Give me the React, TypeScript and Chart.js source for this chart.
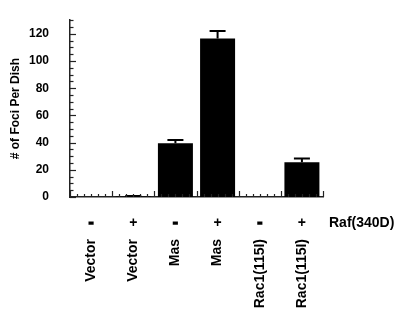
import React, { useEffect, useRef } from "react";
import { Chart, registerables } from "chart.js";

Chart.register(...registerables);

const categories = ["Vector", "Vector", "Mas", "Mas", "Rac1(115I)", "Rac1(115I)"];
const rafSigns = ["-", "+", "-", "+", "-", "+"];
const fociValues = [0, 0.3, 39.5, 116.5, 0, 25.5];
const fociErrors = [0, 0.4, 2.5, 5.5, 0, 2.8];
const yMin = 0;
const yMax = 130;
const yMajorStep = 20;
const yMinorStep = 5;
const yTitle = "# of Foci Per Dish";
const groupLabel = "Raf(340D)";

const FONT = '"Liberation Sans", Arial, Helvetica, sans-serif';

const decorPlugin = {
  id: "decor",
  afterDatasetsDraw(chart: any) {
    const ctx = chart.ctx;
    const xs = chart.scales.x;
    const ys = chart.scales.y;
    const meta = chart.getDatasetMeta(0);
    ctx.save();
    ctx.strokeStyle = "#000";
    ctx.fillStyle = "#000";
    // error bars
    ctx.lineWidth = 2;
    fociValues.forEach((v, i) => {
      const e = fociErrors[i];
      if (!e) return;
      const x = meta.data[i].x;
      const yb = ys.getPixelForValue(v);
      const yt = ys.getPixelForValue(v + e);
      ctx.beginPath();
      ctx.moveTo(x, yb);
      ctx.lineTo(x, yt);
      ctx.moveTo(x - 8, yt);
      ctx.lineTo(x + 8, yt);
      ctx.stroke();
    });
    // y axis ticks (inward)
    ctx.lineWidth = 1.2;
    ctx.strokeStyle = "#222";
    const ax = xs.left;
    for (let v = yMin; v <= yMax; v += yMinorStep) {
      const y = Math.round(ys.getPixelForValue(v)) + 0.5;
      const len = v % yMajorStep === 0 ? 6 : 3.5;
      ctx.beginPath();
      ctx.moveTo(ax, y);
      ctx.lineTo(ax + len, y);
      ctx.stroke();
    }
    // x axis ticks (inward)
    const n = categories.length;
    const cw = (xs.right - xs.left) / n;
    const by = ys.bottom;
    for (let i = 0; i <= n * 6; i++) {
      const x = Math.round(xs.left + (i * cw) / 6) + 0.5;
      const len = i % 6 === 0 ? 6 : 3;
      ctx.beginPath();
      ctx.moveTo(x, by);
      ctx.lineTo(x, by - len);
      ctx.stroke();
    }
    // sign row and group label
    ctx.font = `bold 14px ${FONT}`;
    ctx.textAlign = "center";
    ctx.textBaseline = "middle";
    ctx.strokeStyle = "#000";
    const rowY = 223;
    rafSigns.forEach((s, i) => {
      const x = xs.getPixelForValue(i);
      ctx.fillText(s, x, rowY);
      if (s === "-") {
        ctx.lineWidth = 1.6;
        ctx.strokeText(s, x, rowY);
      }
    });
    ctx.textAlign = "left";
    ctx.fillText(groupLabel, xs.right + 6, rowY);
    ctx.restore();
  },
};

export default function App() {
  const ref = useRef<HTMLCanvasElement | null>(null);
  useEffect(() => {
    if (!ref.current) return;
    const chart = new Chart(ref.current, {
      type: "bar",
      data: {
        labels: categories,
        datasets: [
          {
            data: fociValues,
            backgroundColor: "#000",
            borderWidth: 0,
            categoryPercentage: 1,
            barPercentage: 0.83,
          },
        ],
      },
      options: {
        animation: false,
        responsive: true,
        maintainAspectRatio: false,
        layout: { padding: { top: 9.5, right: 77, left: 0, bottom: 0 } },
        plugins: { legend: { display: false }, tooltip: { enabled: false } },
        scales: {
          x: {
            grid: { display: false },
            border: { display: true, color: "#222", width: 1.5 },
            ticks: {
              autoSkip: false,
              minRotation: 90,
              maxRotation: 90,
              padding: 34,
              color: "#000",
              font: { family: FONT, size: 14, weight: "bold" },
            },
            afterFit(scale: any) {
              scale.height = 119;
            },
          },
          y: {
            min: yMin,
            max: yMax,
            grid: { display: false },
            border: { display: true, color: "#222", width: 1.5 },
            ticks: {
              stepSize: yMinorStep,
              autoSkip: false,
              padding: 13,
              color: "#000",
              font: { family: FONT, size: 12, weight: "bold" },
              callback: (v: any) => (Number(v) % yMajorStep === 0 && Number(v) <= 120 ? String(v) : ""),
            },
            title: {
              display: true,
              text: yTitle,
              color: "#000",
              font: { family: FONT, size: 12, weight: "bold" },
              padding: { top: 8, bottom: 0 },
            },
            afterFit(scale: any) {
              scale.width = 70;
            },
          },
        },
      },
      plugins: [decorPlugin],
    });
    return () => chart.destroy();
  }, []);
  return (
    <div style={{ position: "fixed", left: 0, top: 0, width: 400, height: 316, background: "#fff" }}>
      <canvas ref={ref} />
    </div>
  );
}
